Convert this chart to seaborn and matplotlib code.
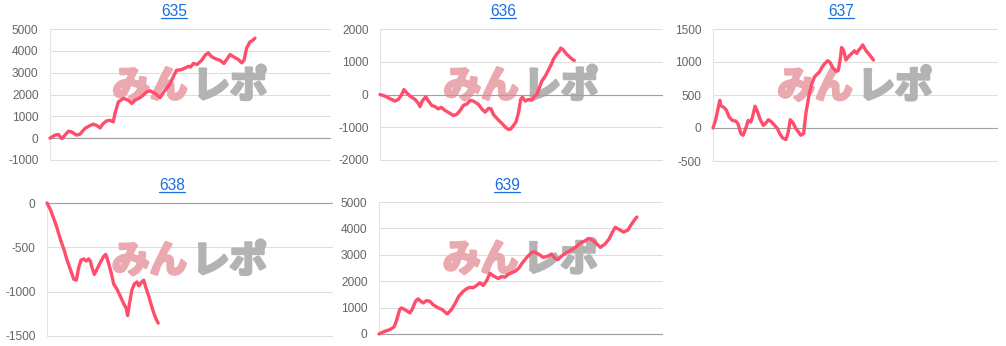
import matplotlib
matplotlib.use("Agg")
import numpy as np
import pandas as pd
import seaborn as sns
import matplotlib.pyplot as plt
import matplotlib.patheffects as pe
from matplotlib.lines import Line2D

# ---------------- data ----------------
titles = ["635", "636", "637", "638", "639"]

games_635 = [0, 180, 300, 420, 480, 660, 770, 950, 1070, 1250, 1430, 1550, 1670, 1790, 1900,
             2020, 2140, 2260, 2320, 2440, 2620, 2800, 2920, 3040, 3210, 3330, 3450, 3570, 3750, 3930,
             4110, 4290, 4400, 4520, 4700, 4820, 4940, 5020, 5120, 5260, 5420, 5540, 5650, 5770, 5890,
             6070, 6210, 6310, 6430, 6550, 6730, 6850, 6930, 7020, 7140, 7230, 7320]
diff_635 = [0, 140, 170, -20, 60, 320, 290, 140, 180, 450, 580, 640, 580, 470, 670,
            790, 820, 750, 1130, 1660, 1820, 1740, 1590, 1740, 1850, 1970, 2120, 2170, 2050, 1860,
            2200, 2500, 2800, 3110, 3140, 3210, 3290, 3260, 3420, 3380, 3570, 3800, 3910, 3730, 3650,
            3570, 3420, 3600, 3830, 3730, 3600, 3450, 3570, 4120, 4410, 4470, 4580]

games_636 = [0, 180, 360, 530, 650, 770, 850, 950, 1070, 1240, 1360, 1420, 1500, 1620, 1720,
             1830, 1950, 2070, 2170, 2310, 2490, 2600, 2720, 2840, 2960, 3080, 3200, 3310, 3490, 3610,
             3730, 3850, 3940, 4020, 4200, 4320, 4460, 4560, 4640, 4730, 4820, 4910, 4990, 5050, 5150,
             5270, 5390, 5480, 5560, 5650, 5740, 5860, 5980, 6070, 6150, 6270, 6360, 6410, 6490, 6600,
             6720, 6810, 6890]
diff_636 = [0, -50, -130, -200, -150, 0, 150, 50, -50, -150, -270, -370, -200, -70, -200,
            -330, -370, -440, -390, -490, -580, -640, -610, -490, -330, -290, -180, -200, -300, -440,
            -540, -420, -440, -610, -780, -880, -1010, -1070, -1050, -950, -840, -560, -150, -80, -200,
            -150, -170, -50, 0, 200, 410, 560, 760, 910, 1080, 1240, 1320, 1420, 1370, 1250,
            1150, 1080, 1040]

games_637 = [0, 90, 190, 240, 270, 390, 470, 570, 680, 800, 880, 980, 1060, 1150, 1240,
             1330, 1390, 1480, 1570, 1650, 1770, 1860, 1950, 2040, 2150, 2270, 2350, 2450, 2570, 2650,
             2720, 2820, 2920, 3010, 3090, 3190, 3270, 3390, 3480, 3570, 3650, 3740, 3840, 3920, 4040,
             4120, 4210, 4330, 4410, 4480, 4530, 4600, 4680, 4800, 4890, 4980, 5060, 5130, 5210, 5270,
             5390, 5510, 5650]
diff_637 = [0, 115, 320, 420, 340, 310, 270, 165, 115, 105, 65, -85, -110, -10, 115,
            90, 165, 330, 245, 140, 40, 75, 125, 100, 50, -10, -85, -150, -175, -60,
            125, 75, -10, -60, -110, -85, 220, 520, 670, 770, 810, 845, 920, 970, 1020,
            995, 920, 860, 870, 1045, 1220, 1170, 1030, 1095, 1130, 1170, 1130, 1180, 1220, 1260,
            1170, 1110, 1030]

games_638 = [0, 120, 230, 350, 470, 590, 700, 820, 940, 1030, 1110, 1190, 1290, 1380, 1460,
             1520, 1580, 1660, 1750, 1870, 1990, 2060, 2140, 2250, 2340, 2460, 2570, 2690, 2780, 2830,
             2890, 2980, 3060, 3160, 3220, 3300, 3390, 3470, 3570, 3650, 3740, 3830, 3900]
diff_638 = [0, -75, -170, -280, -410, -520, -640, -750, -860, -870, -730, -645, -630, -655, -630,
            -655, -730, -805, -750, -670, -600, -580, -655, -785, -915, -975, -1050, -1135, -1190, -1270,
            -1140, -980, -915, -890, -935, -900, -870, -955, -1050, -1140, -1235, -1310, -1355]

games_639 = [0, 200, 380, 530, 610, 730, 790, 910, 1090, 1170, 1290, 1380, 1480, 1560, 1680,
             1800, 1910, 2090, 2230, 2410, 2560, 2680, 2820, 2980, 3090, 3210, 3330, 3450, 3570, 3680,
             3800, 3920, 4040, 4220, 4330, 4450, 4570, 4690, 4830, 4950, 5070, 5220, 5400, 5490, 5630,
             5810, 5990, 6100, 6220, 6320, 6460, 6640, 6810, 6930, 7110, 7280, 7400, 7520, 7640, 7820,
             7870, 7990, 8130, 8250, 8350, 8470, 8640, 8800, 8880, 9000, 9110]
diff_639 = [0, 100, 165, 265, 480, 925, 990, 925, 800, 925, 1240, 1330, 1240, 1175, 1265,
            1240, 1110, 990, 925, 760, 925, 1140, 1430, 1620, 1710, 1770, 1750, 1840, 1940, 1840,
            2010, 2300, 2200, 2100, 2180, 2150, 2260, 2320, 2390, 2510, 2700, 2900, 3090, 3110, 3030,
            2900, 2960, 3030, 2870, 2820, 2960, 3090, 3190, 3270, 3440, 3530, 3620, 3570, 3470, 3280,
            3320, 3410, 3600, 3860, 4040, 3970, 3860, 3940, 4090, 4280, 4430]

yticks_635 = [-1000, 0, 1000, 2000, 3000, 4000, 5000]
yticks_636 = [-2000, -1000, 0, 1000, 2000]
yticks_637 = [-500, 0, 500, 1000, 1500]
yticks_638 = [-1500, -1000, -500, 0]
yticks_639 = [0, 1000, 2000, 3000, 4000, 5000]
x_max = 10000

watermark_left = "みん"
watermark_right = "レポ"

# ---------------- style ----------------
sns.set_theme(style="white")
plt.rcParams["font.family"] = ["Liberation Sans", "Noto Sans CJK JP", "DejaVu Sans"]
plt.rcParams["axes.unicode_minus"] = False

W, H = 1006, 346
fig = plt.figure(figsize=(W / 100, H / 100), dpi=100)
fig.patch.set_facecolor("white")

LINE = "#ff4d6b"
GRID = "#dedede"
ZERO = "#a0a0a0"
TITLE = "#1a6fe0"
WM_PINK = "#eaa9ae"
WM_GRAY = "#b3b3b3"

# pixel boxes: left, right, top, bottom
boxes = [(50, 330, 29, 160), (380, 662, 29, 160), (713, 997, 29, 161),
         (47, 332, 203, 336), (379, 662, 202, 334)]
title_pos = [(174, 16), (503, 16), (841, 16), (172, 190), (507, 190)]

series = [(games_635, diff_635, yticks_635), (games_636, diff_636, yticks_636),
          (games_637, diff_637, yticks_637), (games_638, diff_638, yticks_638),
          (games_639, diff_639, yticks_639)]

title_texts = []
for (l, r, t, b), (gx, dy, yt), name, (tx, ty) in zip(boxes, series, titles, title_pos):
    ax = fig.add_axes([l / W, 1 - b / H, (r - l) / W, (b - t) / H])
    df = pd.DataFrame({"games": gx, "diff": dy})
    sns.lineplot(data=df, x="games", y="diff", ax=ax, color=LINE, linewidth=2.4,
                 estimator=None, sort=False, zorder=4)
    ax.set_xlim(0, x_max)
    ax.set_ylim(yt[0], yt[-1])
    ax.set_yticks(yt)
    ax.set_yticklabels([str(v) for v in yt])
    ax.set_xticks([])
    ax.set_xlabel("")
    ax.set_ylabel("")
    ax.set_facecolor("none")
    for s in ["top", "right", "bottom"]:
        ax.spines[s].set_visible(False)
    ax.spines["left"].set_color("#e4e4e4")
    ax.spines["left"].set_linewidth(0.8)
    ax.tick_params(axis="y", length=7.5, width=0.75, color=GRID, pad=0.8,
                   labelsize=8.6, labelcolor="#666666")
    ax.grid(axis="y", color=GRID, linewidth=0.75, zorder=0)
    for gl in ax.yaxis.get_gridlines():
        gl.set_clip_on(False)
    ax.axhline(0, color=ZERO, linewidth=0.8, zorder=2, clip_on=False)
    for tick, v in zip(ax.yaxis.get_major_ticks(), yt):
        if v == 0:
            tick.tick1line.set_color(ZERO)
    for line in ax.lines:
        line.set_clip_on(False)
    # watermark
    ax.annotate(watermark_left, xy=(0.5, 0.565), xycoords="axes fraction",
                xytext=(-40, 0), textcoords="offset pixels", ha="center", va="center",
                fontsize=27, fontweight="bold", color=WM_PINK,
                family=["Noto Sans CJK JP"], zorder=1,
                path_effects=[pe.withStroke(linewidth=2.2, foreground=WM_PINK)])
    ax.annotate(watermark_right, xy=(0.5, 0.565), xycoords="axes fraction",
                xytext=(40, 0), textcoords="offset pixels", ha="center", va="center",
                fontsize=27, fontweight="bold", color=WM_GRAY,
                family=["Noto Sans CJK JP"], zorder=1,
                path_effects=[pe.withStroke(linewidth=2.2, foreground=WM_GRAY)])
    txt = fig.text(tx / W, 1 - ty / H, name, ha="center", va="baseline",
                   fontsize=11.2, color=TITLE)
    title_texts.append((txt, ty))

fig.canvas.draw()
for txt, ty in title_texts:
    bb = txt.get_window_extent()
    yline = 1 - (ty + 1.5) / H
    fig.add_artist(Line2D([bb.x0 / W, bb.x1 / W], [yline, yline],
                          transform=fig.transFigure, color=TITLE, linewidth=0.9))

fig.savefig("out.png", dpi=100, facecolor="white")
